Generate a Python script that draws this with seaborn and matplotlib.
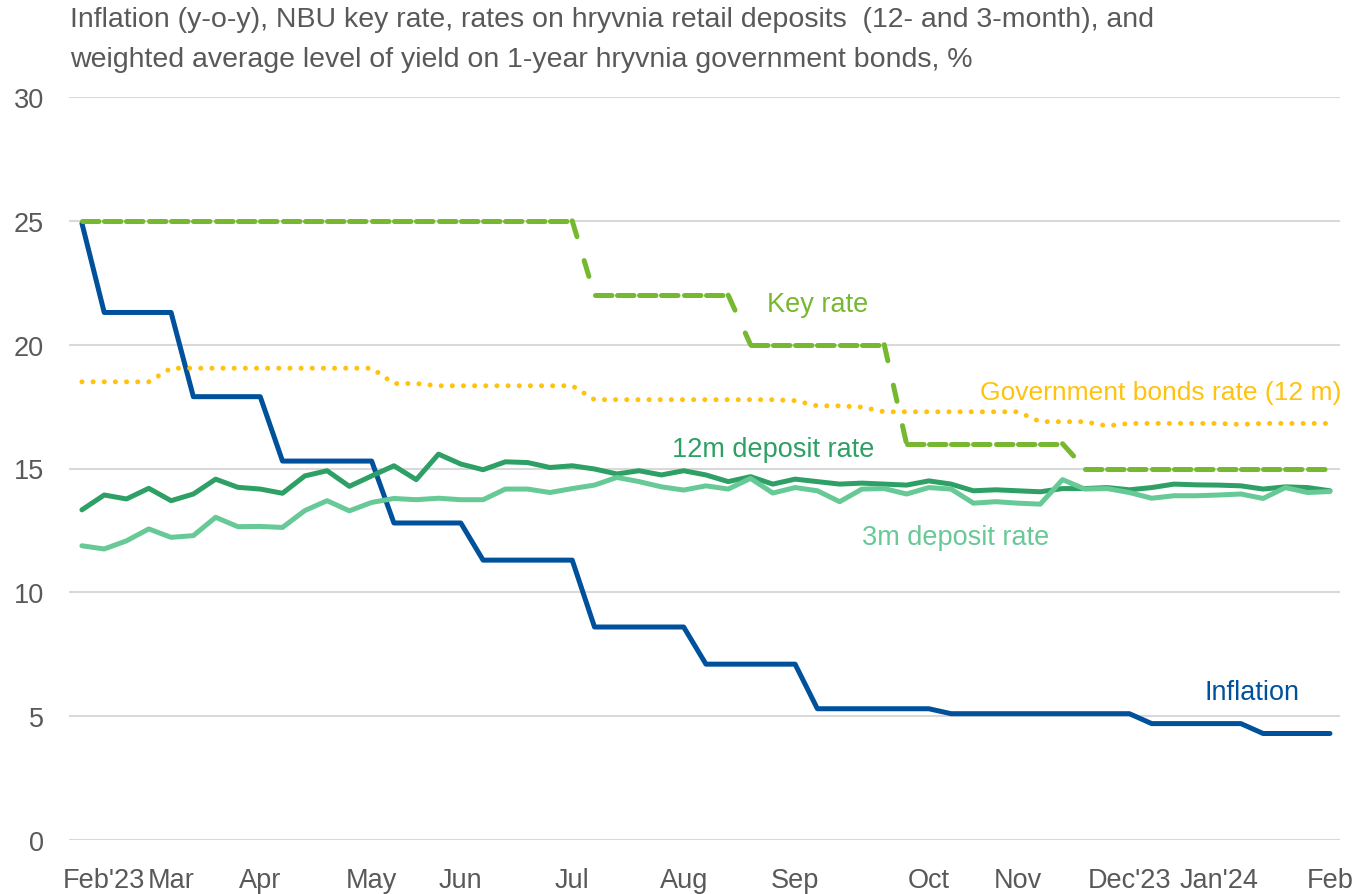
#!/usr/bin/env python3
"""Inflation, NBU key rate, deposit rates and govt bond yield, Feb'23 - Feb'24 (weekly)."""

import numpy as np
import pandas as pd
import matplotlib
matplotlib.use('Agg')
import matplotlib.pyplot as plt
import seaborn as sns

# weekly points, week 0 = first observation
weeks = list(range(57))

tick_pos = [1, 4, 8, 13, 17, 22, 27, 32, 38, 42, 47, 51, 56]
tick_labels = ["Feb'23", 'Mar', 'Apr', 'May', 'Jun', 'Jul', 'Aug', 'Sep',
               'Oct', 'Nov', "Dec'23", "Jan'24", 'Feb']

inflation = ([24.9] + [21.3] * 4 + [17.9] * 4 + [15.3] * 5 + [12.8] * 4
             + [11.3] * 5 + [8.6] * 5 + [7.1] * 5 + [5.3] * 6 + [5.1] * 9
             + [4.7] * 5 + [4.3] * 4)

key_rate = [25.0] * 23 + [22.0] * 7 + [20.0] * 7 + [16.0] * 8 + [15.0] * 12

bonds = ([18.5] * 4 + [19.05] * 10 + [18.43] * 2 + [18.34] * 7
         + [17.78] * 9 + [17.74, 17.53, 17.53, 17.48] + [17.29] * 7
         + [16.89] * 3 + [16.72] + [16.82] * 5 + [16.78] + [16.82] * 4)

dep_12m = [13.33, 13.93, 13.77, 14.20, 13.70, 13.97, 14.57, 14.24, 14.17, 14.00,
           14.70, 14.91, 14.28, 14.70, 15.11, 14.55, 15.58, 15.18, 14.95, 15.27,
           15.24, 15.04, 15.11, 14.98, 14.78, 14.91, 14.74, 14.91, 14.74, 14.47,
           14.67, 14.37, 14.57, 14.47, 14.37, 14.41, 14.37, 14.33, 14.50, 14.37,
           14.10, 14.14, 14.10, 14.06, 14.19, 14.19, 14.23, 14.14, 14.23, 14.37,
           14.34, 14.33, 14.30, 14.17, 14.26, 14.23, 14.10]

dep_3m = [11.88, 11.75, 12.08, 12.56, 12.22, 12.29, 13.03, 12.65, 12.66, 12.62,
          13.30, 13.70, 13.29, 13.63, 13.79, 13.74, 13.80, 13.74, 13.74, 14.17,
          14.17, 14.03, 14.19, 14.33, 14.64, 14.47, 14.26, 14.13, 14.30, 14.17,
          14.60, 14.01, 14.23, 14.10, 13.66, 14.17, 14.19, 13.97, 14.23, 14.17,
          13.60, 13.66, 13.60, 13.56, 14.55, 14.17, 14.19, 14.03, 13.80, 13.90,
          13.90, 13.93, 13.97, 13.79, 14.23, 14.03, 14.07]

df = pd.DataFrame({'week': weeks, 'inflation': inflation, 'key': key_rate,
                   'bonds': bonds, 'dep12': dep_12m, 'dep3': dep_3m})

C_INFL = '#00519C'
C_KEY = '#76B82F'
C_BOND = '#FFC20E'
C_12M = '#2EA065'
C_3M = '#66C996'
C_TEXT = '#595959'
C_GRID = '#D9D9D9'

sns.set_style('white')
plt.rcParams['font.family'] = ['Liberation Sans', 'DejaVu Sans']

fig = plt.figure(figsize=(13.55, 8.95), dpi=100)
ax = fig.add_axes([69 / 1355, 54 / 895, 1271 / 1355, 743 / 895])

LW = 3.6

sns.lineplot(data=df, x='week', y='inflation', ax=ax, color=C_INFL,
             linewidth=LW, solid_capstyle='round', solid_joinstyle='round')

# Excel restarts the dash pattern on every segment
for i in range(len(df) - 1):
    seg = df.iloc[i:i + 2]
    sns.lineplot(data=seg, x='week', y='key', ax=ax, color=C_KEY,
                 linewidth=LW, linestyle=(0, (3.3, 5.0)),
                 dash_capstyle='round')

sns.lineplot(data=df, x='week', y='bonds', ax=ax, color=C_BOND,
             linewidth=LW, linestyle=(0, (0.01, 2.22)), dash_capstyle='round')
sns.lineplot(data=df, x='week', y='dep12', ax=ax, color=C_12M,
             linewidth=LW, solid_capstyle='round', solid_joinstyle='round')
sns.lineplot(data=df, x='week', y='dep3', ax=ax, color=C_3M,
             linewidth=LW, solid_capstyle='round', solid_joinstyle='round')

ax.set_xlim(-0.58, 56.45)
ax.set_ylim(0, 30)
ax.set_yticks(range(0, 31, 5))
ax.set_xticks(tick_pos)
ax.set_xticklabels(tick_labels)
ax.set_xlabel('')
ax.set_ylabel('')
ax.grid(True, axis='y', color=C_GRID, linewidth=1.5)
ax.grid(False, axis='x')
ax.set_axisbelow(True)
for s in ax.spines.values():
    s.set_visible(False)

fs = 19.5
ax.tick_params(axis='both', length=0, labelsize=fs, labelcolor=C_TEXT)
ax.tick_params(axis='x', pad=19.5)
ax.tick_params(axis='y', pad=18)

ax.text(30.74, 21.65, 'Key rate', color=C_KEY, fontsize=fs, va='center', ha='left')
ax.text(40.3, 18.09, 'Government bonds rate (12 m)', color=C_BOND, fontsize=19,
        va='center', ha='left')
ax.text(26.47, 15.79, '12m deposit rate', color=C_12M, fontsize=fs, va='center', ha='left')
ax.text(35.0, 12.23, '3m deposit rate', color=C_3M, fontsize=fs, va='center', ha='left')
ax.text(50.39, 5.98, 'Inflation', color=C_INFL, fontsize=fs, va='center', ha='left')

fig.text(70 / 1355, 1 - 27 / 895,
         'Inflation (y-o-y), NBU key rate, rates on hryvnia retail deposits  (12- and 3-month), and',
         color=C_TEXT, fontsize=20.5, va='baseline', ha='left')
fig.text(70 / 1355, 1 - 67 / 895,
         'weighted average level of yield on 1-year hryvnia government bonds, %',
         color=C_TEXT, fontsize=20.5, va='baseline', ha='left')

fig.savefig('out.png', dpi=100)
print('Saved: out.png')
